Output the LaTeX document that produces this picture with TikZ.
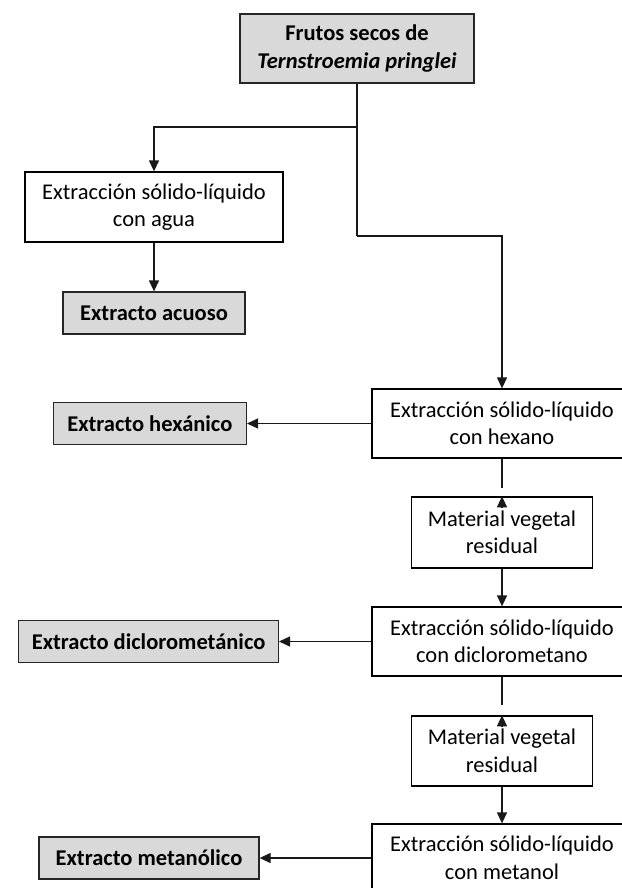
\documentclass[tikz,border=0pt]{standalone}
\usepackage{fontspec}
\setmainfont{Carlito}
\usetikzlibrary{arrows.meta,positioning}

\begin{document}
\begin{tikzpicture}[x=1pt,y=-1pt,
  every node/.style={font=\fontsize{22.5}{27.5}\selectfont, align=center, inner sep=0pt},
  procbox/.style={draw=black, line width=1.3pt, fill=white, minimum width=#1},
  procbox/.default=260pt,
  resbox/.style={draw=black!85, line width=1.3pt, fill=black!15,
    font=\fontsize{22.5}{27.5}\selectfont\bfseries, minimum height=42pt, inner xsep=14pt},
  conn/.style={line width=1.3pt, draw=black!90},
  arr/.style={conn, -{Triangle[length=11pt,width=10pt]}}
]
\useasboundingbox[fill=white] (0,0) rectangle (621,888);

% starting material
\node[resbox, minimum width=234pt, minimum height=69pt, inner xsep=0pt] (frutos) at (357,48.5)
  {Frutos secos de\\\textit{Ternstroemia pringlei}};

% aqueous branch
\node[procbox=258pt, minimum height=70pt] (agua) at (154,207)
  {Extracción sólido-líquido\\con agua};
\node[resbox, minimum width=182pt, inner xsep=0pt] (acuoso) at (154,313) {Extracto acuoso};

% sequential extraction
\node[procbox, minimum height=69pt] (hexano) at (502,423.5)
  {Extracción sólido-líquido\\con hexano};
\node[resbox, anchor=east] (hexanico) at (247,423.5) {Extracto hexánico};

\node[procbox=181pt, minimum height=71pt] (mat1) at (502,532.5)
  {Material vegetal\\residual};

\node[procbox, minimum height=69pt] (dicl) at (502,641.5)
  {Extracción sólido-líquido\\con diclorometano};
\node[resbox, anchor=east, inner xsep=13pt] (diclex) at (279,641.5) {Extracto diclorometánico};

\node[procbox=181pt, minimum height=70pt] (mat2) at (502,751)
  {Material vegetal\\residual};

\node[procbox, minimum height=68pt] (metanol) at (502,858)
  {Extracción sólido-líquido\\con metanol};
\node[resbox, minimum width=220pt, inner xsep=0pt] (metex) at (149,858) {Extracto metanólico};

% branch points and open line ends
\coordinate (j1) at (357,127);
\coordinate (j2) at (357,236);
\coordinate (h1) at (502,488);
\coordinate (d1) at (502,705);

% connectors
\draw[conn] (frutos.south) -- (j1);
\draw[arr] (j1) -| (agua.north);
\draw[conn] (j1) -- (j2);
\draw[arr] (j2) -| (hexano.north);
\draw[arr] (agua.south) -- (acuoso.north);

\draw[arr] (hexano.west) -- (hexanico.east);
\draw[conn] (hexano.south) -- (h1);
\draw[arr] ([yshift=-12pt]mat1.north) -- (mat1.north);
\draw[arr] (mat1.south) -- (dicl.north);

\draw[arr] (dicl.west) -- (diclex.east);
\draw[conn] (dicl.south) -- (d1);
\draw[arr] ([yshift=-12pt]mat2.north) -- (mat2.north);
\draw[arr] (mat2.south) -- (metanol.north);

\draw[arr] (metanol.west) -- (metex.east);
\end{tikzpicture}
\end{document}
